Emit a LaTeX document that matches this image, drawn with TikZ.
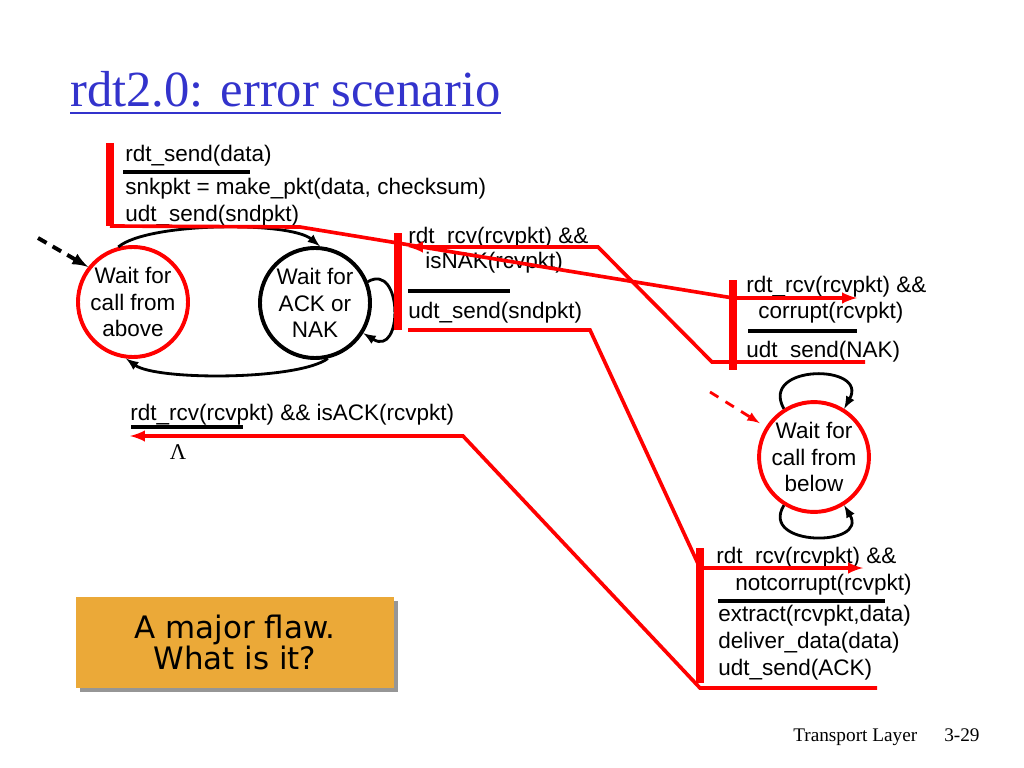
\documentclass[tikz,border=0pt]{standalone}
\usepackage{fontspec}
\setmainfont{Liberation Sans}
\newfontfamily\timesfont{Liberation Serif}
\newfontfamily\flawfont{DejaVu Sans}
\usetikzlibrary{arrows}
\usetikzlibrary{shadows}
\definecolor{titleblue}{RGB}{51,51,204}
\definecolor{flaworange}{RGB}{235,169,56}
\definecolor{shadowgray}{RGB}{150,150,150}
\tikzset{
  lbl/.style={anchor=base west, inner sep=0pt, font=\fontsize{16}{19}\selectfont},
  state/.style={circle, minimum size=2.75cm, inner sep=0pt, line width=2.8pt,
    align=center, font=\fontsize{16}{19}\selectfont},
  rbar/.style={red, line width=5pt},
  rpath/.style={red, line width=2.6pt, -latex},
  tbar/.style={black, line width=2.2pt},
  fsm/.style={black, line width=2pt, -latex},
  flawbox/.style={fill=flaworange, minimum width=7.95cm, minimum height=2.275cm,
    align=center, font=\flawfont\fontsize{22}{21.2}\selectfont,
    drop shadow={shadow xshift=2.8pt, shadow yshift=-2.8pt, fill=shadowgray, opacity=1}}
}
\begin{document}
\begin{tikzpicture}[x=0.025cm, y=-0.025cm]
\useasboundingbox (0,0) rectangle (1024,768);

% Title
\node[anchor=base west, inner sep=0pt, text=titleblue,
  font=\timesfont\fontsize{36}{40}\selectfont] (title) at (70,107) {rdt2.0: error scenario};
\draw[titleblue, line width=1.4pt] ([yshift=-4.5pt]title.base west) -- ([yshift=-4.5pt]title.base east);

% Sender: two states
\node[state, draw=red] (above) at (133,302) {Wait for\\call from\\above};
\node[state, draw=black] (acknak) at (315,303) {Wait for\\ACK or\\NAK};
\draw[fsm] (above.105) .. controls +(30,-25) and +(-30,-25) .. (acknak.85);
\draw[fsm] (acknak.283) .. controls +(-30,22) and +(30,22) .. (above.263);
\draw[fsm] (acknak.22) .. controls +(35,-20) and +(40,25) .. (acknak.-32);
\coordinate (start1) at (38,238);
\draw[black, line width=2.8pt, dash pattern=on 7pt off 5pt, -latex] (start1) -- (above.142);

% Sender labels
\node[lbl] (send1) at (125,162) {rdt\_send(data)};
\draw[tbar] (123,172) -- (250,172);
\node[lbl] (send2) at (125,194) {snkpkt = make\_pkt(data, checksum)};
\node[lbl] (send3) at (125,221) {udt\_send(sndpkt)};

\node[lbl] (nak1) at (408,243) {rdt\_rcv(rcvpkt) \&\&};
\node[lbl] (nak2) at (425,268) {isNAK(rcvpkt)};
\draw[tbar] (408,291) -- (510,291);
\node[lbl] (nak3) at (408,318) {udt\_send(sndpkt)};

\node[lbl] (ack1) at (130,420) {rdt\_rcv(rcvpkt) \&\& isACK(rcvpkt)};
\draw[tbar] (131,427) -- (243,427);
\node[font=\timesfont\fontsize{16}{19}\selectfont, inner sep=0pt] (lam) at (178,452) {Λ};

% Receiver: one state
\node[state, draw=red, minimum size=2.7cm] (below) at (814,457) {Wait for\\call from\\below};
\draw[fsm] (below.122) .. controls +(-25,-45) and +(25,-45) .. (below.58);
\draw[fsm] (below.238) .. controls +(-25,42) and +(25,42) .. (below.302);
\coordinate (start2) at (710,392);
\draw[red, line width=2pt, dash pattern=on 7pt off 6pt, -latex, shorten >=5pt] (start2) -- (below.148);

% Receiver labels
\node[lbl] (cor1) at (746,292) {rdt\_rcv(rcvpkt) \&\&};
\node[lbl] (cor2) at (758,318) {corrupt(rcvpkt)};
\draw[tbar] (748,331) -- (857,331);
\node[lbl] (cor3) at (746,357) {udt\_send(NAK)};

\node[lbl] (ok1) at (716,563) {rdt\_rcv(rcvpkt) \&\&};
\node[lbl] (ok2) at (735,590) {notcorrupt(rcvpkt)};
\draw[tbar] (718,601) -- (885,601);
\node[lbl] (ok3) at (718,621) {extract(rcvpkt,data)};
\node[lbl] (ok4) at (718,648) {deliver\_data(data)};
\node[lbl] (ok5) at (718,675) {udt\_send(ACK)};

% Flaw box
\node[flawbox] (flaw) at (235,642.5) {A major flaw.\\What is it?};

% Footer
\node[anchor=base west, inner sep=0pt, font=\timesfont\fontsize{13.7}{16}\selectfont] (chap) at (793,741) {Transport Layer};
\node[anchor=base west, inner sep=0pt, font=\timesfont\fontsize{13.7}{16}\selectfont] (page) at (944,741) {3-29};

% Error scenario, red trace
\coordinate (sndtop) at (110,143);
\coordinate (sndbot) at (110,226);
\coordinate (naktop) at (398,233);
\coordinate (nakbot) at (398,330);
\coordinate (cortop) at (733,280);
\coordinate (corbot) at (733,370);
\coordinate (oktop) at (700,548);
\coordinate (okbot) at (700,683);
\draw[rbar] (sndtop) -- (sndbot);
\draw[rbar] (naktop) -- (nakbot);
\draw[rbar] (cortop) -- (corbot);
\draw[rbar] (oktop) -- (okbot);
\coordinate (corarr) at (857,298);
\coordinate (nakarr) at (408,247);
\coordinate (okarr) at (863,568);
\coordinate (ackarr) at (130,436);
\coordinate (corend) at (865,362);
\coordinate (nakend) at (408,330);
\coordinate (okend) at (877,688);
\draw[rpath] (sndbot) -- (300,227) -- (733,298) -- (corarr);
\draw[rpath] (corend) -- (712,362) -- (598,247) -- (nakarr);
\draw[rpath] (nakend) -- (590,330) -- (700,568) -- (okarr);
\draw[rpath] (okend) -- (700,688) -- (463,436) -- (ackarr);
\end{tikzpicture}
\end{document}
